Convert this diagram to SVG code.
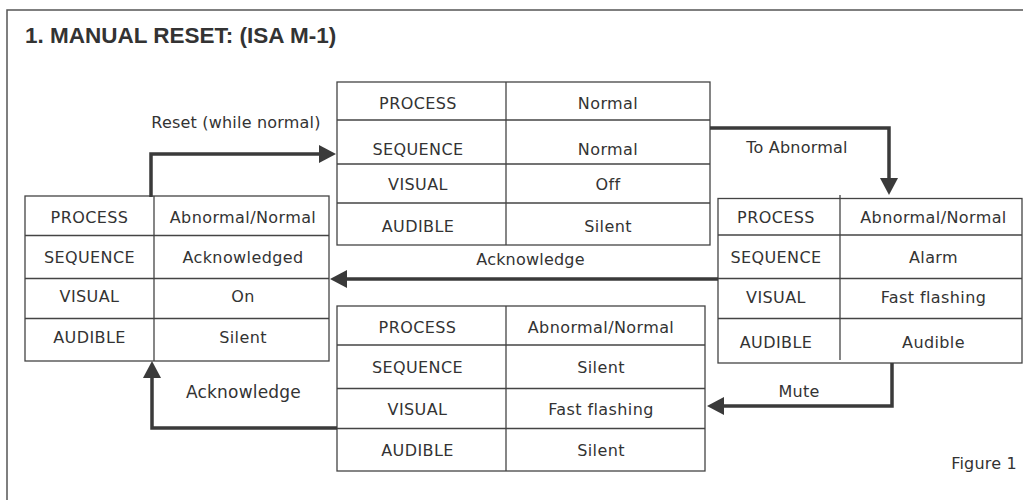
<svg xmlns="http://www.w3.org/2000/svg" width="1023" height="500" viewBox="0 0 1023 500">
  <style>
    .frame { fill: none; stroke: #555; stroke-width: 1.5; }
    .tbl { fill: #fff; stroke: #444; stroke-width: 1.3; }
    .grid { stroke: #444; stroke-width: 1.3; }
    .cell { font-family: "DejaVu Sans", "Liberation Sans", sans-serif; font-size: 16px; letter-spacing: 0.4px; fill: #333; text-anchor: middle; }
    .lbl { font-family: "DejaVu Sans", "Liberation Sans", sans-serif; font-size: 16px; letter-spacing: 0.2px; fill: #333; text-anchor: middle; }
    .title { font-family: "Liberation Sans", Arial, sans-serif; font-size: 22.5px; font-weight: bold; fill: #333; }
    .wire { fill: none; stroke: #3a3a3a; stroke-width: 3.5; stroke-linejoin: miter; marker-end: url(#head); }
  </style>
  <defs>
    <marker id="head" viewBox="0 0 17 18" refX="0" refY="9" markerWidth="17" markerHeight="18" markerUnits="userSpaceOnUse" orient="auto">
      <path d="M0,0 L17,9 L0,18 Z" fill="#3a3a3a"/>
    </marker>
  </defs>

  <rect width="1023" height="500" fill="#fff"/>
  <rect class="frame" x="7" y="10" width="1030" height="500"/>
  <text class="title" x="25" y="43">1. MANUAL RESET: (ISA M-1)</text>

  <!-- state: normal -->
  <g id="state-normal">
    <rect class="tbl" x="337" y="82" width="373" height="163"/>
    <line class="grid" x1="506" y1="82" x2="506" y2="245"/>
    <line class="grid" x1="337" y1="120" x2="710" y2="120"/>
    <line class="grid" x1="337" y1="164" x2="710" y2="164"/>
    <line class="grid" x1="337" y1="203" x2="710" y2="203"/>
    <text class="cell" x="418" y="109">PROCESS</text>
    <text class="cell" x="608" y="109">Normal</text>
    <text class="cell" x="418" y="155">SEQUENCE</text>
    <text class="cell" x="608" y="155">Normal</text>
    <text class="cell" x="418" y="190">VISUAL</text>
    <text class="cell" x="608" y="190">Off</text>
    <text class="cell" x="418" y="232">AUDIBLE</text>
    <text class="cell" x="608" y="232">Silent</text>
  </g>

  <!-- state: alarm -->
  <g id="state-alarm">
    <rect class="tbl" x="718" y="198.5" width="304" height="164.5"/>
    <line class="grid" x1="840" y1="195" x2="840" y2="360"/>
    <line class="grid" x1="718" y1="235" x2="1022" y2="235"/>
    <line class="grid" x1="718" y1="278.5" x2="1022" y2="278.5"/>
    <line class="grid" x1="718" y1="318.5" x2="1022" y2="318.5"/>
    <text class="cell" x="776" y="223">PROCESS</text>
    <text class="cell" x="933.5" y="223">Abnormal/Normal</text>
    <text class="cell" x="776" y="263">SEQUENCE</text>
    <text class="cell" x="933.5" y="263">Alarm</text>
    <text class="cell" x="776" y="303">VISUAL</text>
    <text class="cell" x="933.5" y="303">Fast flashing</text>
    <text class="cell" x="776" y="348">AUDIBLE</text>
    <text class="cell" x="933.5" y="348">Audible</text>
  </g>

  <!-- state: silenced -->
  <g id="state-silenced">
    <rect class="tbl" x="337" y="306" width="368" height="165"/>
    <line class="grid" x1="506" y1="306" x2="506" y2="471"/>
    <line class="grid" x1="337" y1="345" x2="705" y2="345"/>
    <line class="grid" x1="337" y1="388.5" x2="705" y2="388.5"/>
    <line class="grid" x1="337" y1="428.5" x2="705" y2="428.5"/>
    <text class="cell" x="417.5" y="333">PROCESS</text>
    <text class="cell" x="601" y="333">Abnormal/Normal</text>
    <text class="cell" x="417.5" y="373">SEQUENCE</text>
    <text class="cell" x="601" y="373">Silent</text>
    <text class="cell" x="417.5" y="415">VISUAL</text>
    <text class="cell" x="601" y="415">Fast flashing</text>
    <text class="cell" x="417.5" y="456">AUDIBLE</text>
    <text class="cell" x="601" y="456">Silent</text>
  </g>

  <!-- state: acknowledged -->
  <g id="state-acknowledged">
    <rect class="tbl" x="25" y="196" width="304" height="165"/>
    <line class="grid" x1="154" y1="196" x2="154" y2="361"/>
    <line class="grid" x1="25" y1="235.5" x2="329" y2="235.5"/>
    <line class="grid" x1="25" y1="278.5" x2="329" y2="278.5"/>
    <line class="grid" x1="25" y1="318.5" x2="329" y2="318.5"/>
    <text class="cell" x="89.5" y="223">PROCESS</text>
    <text class="cell" x="243" y="223">Abnormal/Normal</text>
    <text class="cell" x="89.5" y="263">SEQUENCE</text>
    <text class="cell" x="243" y="263">Acknowledged</text>
    <text class="cell" x="89.5" y="302">VISUAL</text>
    <text class="cell" x="243" y="302">On</text>
    <text class="cell" x="89.5" y="343">AUDIBLE</text>
    <text class="cell" x="243" y="343">Silent</text>
  </g>

  <!-- transitions -->
  <g id="connectors">
    <path class="wire" d="M151,197 V154 H319"/>
    <path class="wire" d="M710,128 H889 V178"/>
    <path class="wire" d="M718,279 H347"/>
    <path class="wire" d="M892,363 V406 H724"/>
    <path class="wire" d="M337,428 H152 V378"/>
    <text class="lbl" x="236" y="128">Reset (while normal)</text>
    <text class="lbl" x="797" y="153">To Abnormal</text>
    <text class="lbl" x="530.5" y="265">Acknowledge</text>
    <text class="lbl" x="799" y="397">Mute</text>
    <text class="lbl" x="243.5" y="398" style="font-size:17px">Acknowledge</text>
  </g>

  <text class="lbl" x="984" y="469">Figure 1</text>
</svg>
